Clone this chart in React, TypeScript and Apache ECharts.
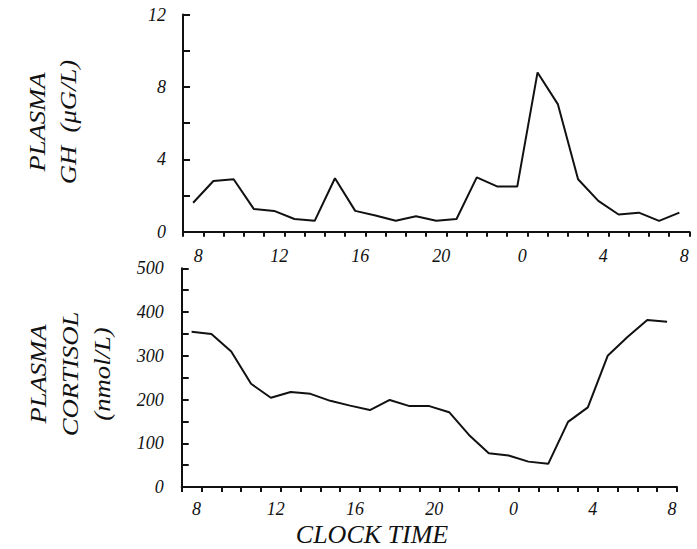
import React, { useEffect, useRef } from "react";
import * as echarts from "echarts";

const hours = ["8","9","10","11","12","13","14","15","16","17","18","19","20","21","22","23","0","1","2","3","4","5","6","7","8"];
const ghValues = [1.6, 2.8, 2.9, 1.25, 1.15, 0.7, 0.6, 2.95, 1.15, 0.9, 0.6, 0.85, 0.6, 0.7, 3.0, 2.5, 2.5, 8.8, 7.05, 2.9, 1.7, 0.95, 1.05, 0.6, 1.05];
const cortisolValues = [355, 350, 310, 236, 204, 217, 213, 197, 186, 176, 199, 185, 185, 171, 119, 77, 72, 58, 53, 149, 182, 300, 343, 382, 378];
const ghTitle = "PLASMA\nGH  (\u03bcG/L)";
const cortisolTitle = "PLASMA\nCORTISOL\n(nmol/L)";
const xTitle = "CLOCK TIME";

const FONT = "Liberation Serif";
const INK = "#111";

export default function App() {
  const ref = useRef<HTMLDivElement>(null);
  useEffect(() => {
    document.body.style.margin = "0";
    const chart = echarts.init(ref.current!, null, { renderer: "svg" });
    const axisLabelBase = {
      color: INK,
      fontFamily: FONT,
      fontStyle: "italic" as const,
      fontSize: 18,
    };
    const xAxisCommon = (gridIndex: number, margin: number) => ({
      type: "category" as const,
      gridIndex,
      data: hours,
      boundaryGap: true,
      axisLine: { lineStyle: { color: INK, width: 2 } },
      axisTick: { show: true, interval: 0, length: 5, lineStyle: { color: INK, width: 2 } },
      axisLabel: { ...axisLabelBase, interval: 3, margin, padding: [0, 0, 0, 10] },
      splitLine: { show: false },
    });
    const titleStyle = {
      fontFamily: FONT,
      fontStyle: "italic",
      fontSize: 23,
      fill: INK,
      align: "center",
      verticalAlign: "middle",
    };
    chart.setOption({
      animation: false,
      backgroundColor: "#fff",
      grid: [
        { left: 183, right: 7.5, top: 14.5, height: 217.2 },
        { left: 181.7, right: 20, top: 268.3, height: 218.7 },
      ],
      xAxis: [xAxisCommon(0, 15), xAxisCommon(1, 13)],
      yAxis: [
        {
          type: "value",
          gridIndex: 0,
          min: 0,
          max: 12,
          interval: 2,
          axisLine: { show: true, lineStyle: { color: INK, width: 2 } },
          axisTick: { show: true, inside: true, length: 7, lineStyle: { color: INK, width: 2 } },
          axisLabel: { ...axisLabelBase, margin: 17, formatter: (v: number) => (v % 4 === 0 ? String(v) : "") },
          splitLine: { show: false },
        },
        {
          type: "value",
          gridIndex: 1,
          min: 0,
          max: 500,
          interval: 50,
          axisLine: { show: true, lineStyle: { color: INK, width: 2 } },
          axisTick: { show: true, inside: true, length: 7, lineStyle: { color: INK, width: 2 } },
          axisLabel: { ...axisLabelBase, margin: 18, formatter: (v: number) => (v % 100 === 0 ? String(v) : "") },
          splitLine: { show: false },
        },
      ],
      series: [
        {
          type: "line",
          xAxisIndex: 0,
          yAxisIndex: 0,
          data: ghValues,
          showSymbol: false,
          symbol: "none",
          lineStyle: { color: INK, width: 2 },
        },
        {
          type: "line",
          xAxisIndex: 1,
          yAxisIndex: 1,
          data: cortisolValues,
          showSymbol: false,
          symbol: "none",
          lineStyle: { color: INK, width: 2 },
        },
      ],
      graphic: [
        {
          type: "text",
          x: 53,
          y: 122,
          rotation: Math.PI / 2,
          scaleX: 1.16,
          style: { ...titleStyle, text: ghTitle, lineHeight: 31 },
        },
        {
          type: "text",
          x: 70,
          y: 374,
          rotation: Math.PI / 2,
          scaleX: 1.16,
          style: { ...titleStyle, text: cortisolTitle, lineHeight: 32 },
        },
        {
          type: "text",
          x: 372,
          y: 534,
          style: { ...titleStyle, fontSize: 26, text: xTitle },
        },
      ],
    });
    return () => chart.dispose();
  }, []);
  return <div ref={ref} style={{ width: 697, height: 549 }} />;
}
